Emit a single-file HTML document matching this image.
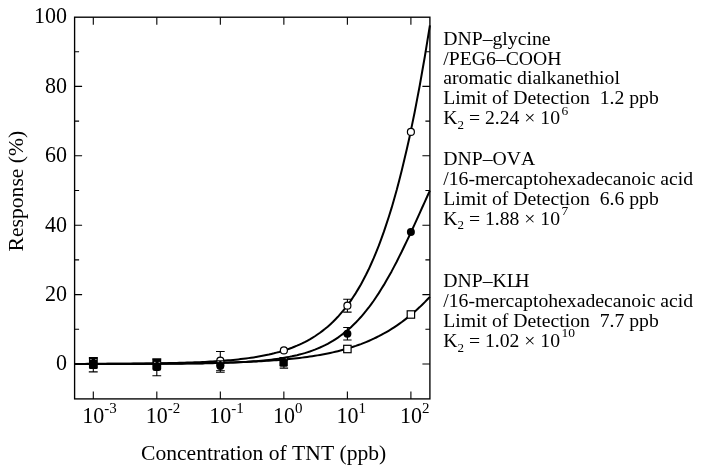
<!DOCTYPE html>
<html><head><meta charset="utf-8"><title>TNT response</title>
<style>html,body{margin:0;padding:0;background:#fff}svg{display:block;filter:grayscale(1)}text{font-family:"Liberation Serif",serif;fill:#000;font-kerning:none;white-space:pre}</style></head><body>
<svg width="702" height="473" viewBox="0 0 702 473">
<rect width="702" height="473" fill="#fff"/>
<g stroke="#000" stroke-width="1.1" fill="none">
<rect x="74.6" y="17.2" width="355.3" height="381.7" stroke-width="1.35"/>
<path d="M93.30,17.2v7.5M93.30,398.9v-7.5M156.82,17.2v7.5M156.82,398.9v-7.5M220.34,17.2v7.5M220.34,398.9v-7.5M283.86,17.2v7.5M283.86,398.9v-7.5M347.38,17.2v7.5M347.38,398.9v-7.5M410.90,17.2v7.5M410.90,398.9v-7.5M74.6,364.00h7.5M429.9,364.00h-7.5M74.6,329.30h4.5M429.9,329.30h-4.5M74.6,294.60h7.5M429.9,294.60h-7.5M74.6,259.90h4.5M429.9,259.90h-4.5M74.6,225.20h7.5M429.9,225.20h-7.5M74.6,190.50h4.5M429.9,190.50h-4.5M74.6,155.80h7.5M429.9,155.80h-7.5M74.6,121.10h4.5M429.9,121.10h-4.5M74.6,86.40h7.5M429.9,86.40h-7.5M74.6,51.70h4.5M429.9,51.70h-4.5"/>
</g>
<g stroke="#000" stroke-width="2" fill="none" stroke-linejoin="round">
<path d="M74.6,363.93 L77.2,363.93 L79.7,363.93 L82.3,363.92 L84.8,363.92 L87.4,363.91 L89.9,363.91 L92.5,363.90 L95.0,363.90 L97.6,363.89 L100.2,363.89 L102.7,363.88 L105.3,363.88 L107.8,363.87 L110.4,363.86 L112.9,363.86 L115.5,363.85 L118.1,363.84 L120.6,363.83 L123.2,363.82 L125.7,363.81 L128.3,363.80 L130.8,363.79 L133.4,363.78 L135.9,363.77 L138.5,363.76 L141.1,363.75 L143.6,363.73 L146.2,363.72 L148.7,363.70 L151.3,363.69 L153.8,363.67 L156.4,363.65 L159.0,363.64 L161.5,363.62 L164.1,363.60 L166.6,363.57 L169.2,363.55 L171.7,363.53 L174.3,363.50 L176.8,363.48 L179.4,363.45 L182.0,363.42 L184.5,363.39 L187.1,363.36 L189.6,363.33 L192.2,363.29 L194.7,363.25 L197.3,363.21 L199.8,363.17 L202.4,363.13 L205.0,363.08 L207.5,363.03 L210.1,362.98 L212.6,362.93 L215.2,362.87 L217.7,362.81 L220.3,362.75 L222.9,362.68 L225.4,362.62 L228.0,362.54 L230.5,362.47 L233.1,362.39 L235.6,362.30 L238.2,362.21 L240.7,362.12 L243.3,362.02 L245.9,361.92 L248.4,361.81 L251.0,361.69 L253.5,361.57 L256.1,361.44 L258.6,361.31 L261.2,361.17 L263.8,361.02 L266.3,360.86 L268.9,360.70 L271.4,360.53 L274.0,360.35 L276.5,360.16 L279.1,359.96 L281.6,359.74 L284.2,359.52 L286.8,359.29 L289.3,359.05 L291.9,358.79 L294.4,358.52 L297.0,358.23 L299.5,357.93 L302.1,357.62 L304.7,357.29 L307.2,356.94 L309.8,356.58 L312.3,356.20 L314.9,355.80 L317.4,355.38 L320.0,354.93 L322.5,354.47 L325.1,353.98 L327.7,353.47 L330.2,352.93 L332.8,352.37 L335.3,351.78 L337.9,351.16 L340.4,350.51 L343.0,349.83 L345.5,349.12 L348.1,348.37 L350.7,347.59 L353.2,346.77 L355.8,345.91 L358.3,345.02 L360.9,344.08 L363.4,343.10 L366.0,342.07 L368.6,341.00 L371.1,339.87 L373.7,338.70 L376.2,337.48 L378.8,336.20 L381.3,334.87 L383.9,333.48 L386.4,332.03 L389.0,330.52 L391.6,328.95 L394.1,327.32 L396.7,325.62 L399.2,323.85 L401.8,322.01 L404.3,320.10 L406.9,318.12 L409.5,316.07 L412.0,313.94 L414.6,311.74 L417.1,309.45 L419.7,307.10 L422.2,304.66 L424.8,302.14 L427.3,299.54 L429.9,296.87"/>
<path d="M74.6,363.98 L77.2,363.98 L79.7,363.98 L82.3,363.98 L84.8,363.98 L87.4,363.98 L89.9,363.97 L92.5,363.97 L95.0,363.97 L97.6,363.97 L100.2,363.97 L102.7,363.96 L105.3,363.96 L107.8,363.96 L110.4,363.95 L112.9,363.95 L115.5,363.95 L118.1,363.94 L120.6,363.94 L123.2,363.93 L125.7,363.93 L128.3,363.92 L130.8,363.92 L133.4,363.91 L135.9,363.90 L138.5,363.90 L141.1,363.89 L143.6,363.88 L146.2,363.87 L148.7,363.86 L151.3,363.85 L153.8,363.84 L156.4,363.83 L159.0,363.82 L161.5,363.80 L164.1,363.79 L166.6,363.77 L169.2,363.76 L171.7,363.74 L174.3,363.72 L176.8,363.70 L179.4,363.67 L182.0,363.65 L184.5,363.62 L187.1,363.60 L189.6,363.56 L192.2,363.53 L194.7,363.50 L197.3,363.46 L199.8,363.42 L202.4,363.38 L205.0,363.33 L207.5,363.28 L210.1,363.23 L212.6,363.17 L215.2,363.10 L217.7,363.04 L220.3,362.97 L222.9,362.89 L225.4,362.81 L228.0,362.72 L230.5,362.62 L233.1,362.52 L235.6,362.41 L238.2,362.29 L240.7,362.16 L243.3,362.02 L245.9,361.88 L248.4,361.72 L251.0,361.55 L253.5,361.37 L256.1,361.17 L258.6,360.96 L261.2,360.74 L263.8,360.50 L266.3,360.24 L268.9,359.96 L271.4,359.66 L274.0,359.34 L276.5,358.99 L279.1,358.63 L281.6,358.23 L284.2,357.81 L286.8,357.35 L289.3,356.86 L291.9,356.34 L294.4,355.78 L297.0,355.19 L299.5,354.55 L302.1,353.86 L304.7,353.13 L307.2,352.34 L309.8,351.50 L312.3,350.61 L314.9,349.65 L317.4,348.62 L320.0,347.53 L322.5,346.37 L325.1,345.13 L327.7,343.80 L330.2,342.39 L332.8,340.89 L335.3,339.30 L337.9,337.60 L340.4,335.80 L343.0,333.89 L345.5,331.87 L348.1,329.73 L350.7,327.46 L353.2,325.06 L355.8,322.53 L358.3,319.86 L360.9,317.04 L363.4,314.09 L366.0,310.98 L368.6,307.72 L371.1,304.31 L373.7,300.74 L376.2,297.01 L378.8,293.13 L381.3,289.09 L383.9,284.89 L386.4,280.54 L389.0,276.05 L391.6,271.41 L394.1,266.63 L396.7,261.72 L399.2,256.68 L401.8,251.53 L404.3,246.27 L406.9,240.92 L409.5,235.48 L412.0,229.97 L414.6,224.41 L417.1,218.80 L419.7,213.17 L422.2,207.52 L424.8,201.87 L427.3,196.23 L429.9,190.63"/>
<path d="M74.6,363.90 L77.2,363.90 L79.7,363.89 L82.3,363.88 L84.8,363.88 L87.4,363.87 L89.9,363.86 L92.5,363.85 L95.0,363.84 L97.6,363.83 L100.2,363.82 L102.7,363.81 L105.3,363.80 L107.8,363.79 L110.4,363.77 L112.9,363.76 L115.5,363.74 L118.1,363.73 L120.6,363.71 L123.2,363.69 L125.7,363.67 L128.3,363.65 L130.8,363.63 L133.4,363.61 L135.9,363.59 L138.5,363.56 L141.1,363.53 L143.6,363.50 L146.2,363.47 L148.7,363.44 L151.3,363.41 L153.8,363.37 L156.4,363.33 L159.0,363.29 L161.5,363.24 L164.1,363.20 L166.6,363.15 L169.2,363.09 L171.7,363.04 L174.3,362.98 L176.8,362.91 L179.4,362.85 L182.0,362.77 L184.5,362.70 L187.1,362.62 L189.6,362.53 L192.2,362.44 L194.7,362.34 L197.3,362.24 L199.8,362.13 L202.4,362.01 L205.0,361.89 L207.5,361.76 L210.1,361.62 L212.6,361.47 L215.2,361.32 L217.7,361.15 L220.3,360.97 L222.9,360.79 L225.4,360.59 L228.0,360.37 L230.5,360.15 L233.1,359.91 L235.6,359.66 L238.2,359.39 L240.7,359.10 L243.3,358.80 L245.9,358.48 L248.4,358.13 L251.0,357.77 L253.5,357.39 L256.1,356.98 L258.6,356.54 L261.2,356.08 L263.8,355.59 L266.3,355.07 L268.9,354.52 L271.4,353.93 L274.0,353.31 L276.5,352.65 L279.1,351.95 L281.6,351.21 L284.2,350.42 L286.8,349.58 L289.3,348.69 L291.9,347.75 L294.4,346.75 L297.0,345.69 L299.5,344.57 L302.1,343.38 L304.7,342.11 L307.2,340.77 L309.8,339.35 L312.3,337.84 L314.9,336.24 L317.4,334.54 L320.0,332.75 L322.5,330.84 L325.1,328.83 L327.7,326.69 L330.2,324.43 L332.8,322.03 L335.3,319.49 L337.9,316.80 L340.4,313.96 L343.0,310.95 L345.5,307.76 L348.1,304.39 L350.7,300.83 L353.2,297.06 L355.8,293.08 L358.3,288.87 L360.9,284.43 L363.4,279.73 L366.0,274.78 L368.6,269.55 L371.1,264.03 L373.7,258.21 L376.2,252.08 L378.8,245.63 L381.3,238.83 L383.9,231.67 L386.4,224.14 L389.0,216.22 L391.6,207.91 L394.1,199.17 L396.7,190.01 L399.2,180.39 L401.8,170.32 L404.3,159.77 L406.9,148.73 L409.5,137.18 L412.0,125.13 L414.6,112.54 L417.1,99.41 L419.7,85.74 L422.2,71.50 L424.8,56.71 L427.3,41.34 L429.9,25.40"/>
</g>
<path d="M93.3,358.0V371.9M88.8,358.0h8.9M88.8,371.9h8.9" stroke="#000" stroke-width="1.1" fill="none"/>
<path d="M88.95,357.00H97.80V367.80Q97.80,369.00 96.60,369.00H90.15Q88.95,369.00 88.95,367.80Z" fill="#000"/>
<rect x="90.1" y="359.0" width="1.6" height="1.0" fill="#808080"/>
<rect x="95.1" y="359.0" width="1.6" height="1.0" fill="#808080"/>
<path d="M156.8,359.0V375.7M152.4,359.0h8.8M152.4,375.7h8.8" stroke="#000" stroke-width="1.1" fill="none"/>
<path d="M152.35,358.60H161.20V368.50Q161.20,371.00 158.70,371.00H154.85Q152.35,371.00 152.35,368.50Z" fill="#000"/>
<rect x="154.0" y="361.9" width="1.6" height="1.0" fill="#9a9a9a"/>
<rect x="158.6" y="361.9" width="1.6" height="1.0" fill="#9a9a9a"/>
<path d="M220.3,351.5V372.3M216.0,351.5h8.7M216.0,372.3h8.7" stroke="#000" stroke-width="1.1" fill="none"/>
<circle cx="220.3" cy="360.7" r="3.5" fill="#fff" stroke="#000" stroke-width="1.2"/>
<path d="M216.40,360.30H224.30V366.00Q224.30,366.50 223.80,366.50H216.90Q216.40,366.50 216.40,366.00Z" fill="#000"/>
<circle cx="220.3" cy="366.0" r="4.0" fill="#000" stroke="#000" stroke-width="0"/>
<rect x="217.4" y="361.2" width="1.8" height="0.9" fill="#aaa"/>
<rect x="221.5" y="361.2" width="1.8" height="0.9" fill="#aaa"/>
<path d="M216.1,370.7h8.7" stroke="#000" stroke-width="1.0"/>
<path d="M283.9,360.0V368.1M279.7,360.0h8.4M279.7,368.1h8.4" stroke="#000" stroke-width="1.1" fill="none"/>
<path d="M279.40,356.90H287.80V365.20Q287.80,366.70 286.30,366.70H280.90Q279.40,366.70 279.40,365.20Z" fill="#000"/>
<rect x="285.8" y="358.2" width="0.9" height="0.9" fill="#bbb"/>
<circle cx="283.9" cy="350.4" r="3.5" fill="#fff" stroke="#000" stroke-width="1.2"/>
<path d="M347.4,299.2V312.1M343.2,299.2h8.4M343.2,312.1h8.4" stroke="#000" stroke-width="1.1" fill="none"/>
<circle cx="347.4" cy="305.7" r="3.5" fill="#fff" stroke="#000" stroke-width="1.2"/>
<path d="M347.4,327.5V340.0M343.2,327.5h8.4M343.2,340.0h8.4" stroke="#000" stroke-width="1.1" fill="none"/>
<circle cx="347.4" cy="333.7" r="4.0" fill="#000" stroke="#000" stroke-width="0"/>
<rect x="343.7" y="345.3" width="7.4" height="7.4" fill="#fff" stroke="#000" stroke-width="1.2"/>
<circle cx="410.9" cy="131.9" r="3.5" fill="#fff" stroke="#000" stroke-width="1.2"/>
<circle cx="410.9" cy="232.0" r="4.0" fill="#000" stroke="#000" stroke-width="0"/>
<rect x="407.2" y="310.8" width="7.4" height="7.4" fill="#fff" stroke="#000" stroke-width="1.2"/>
<text transform="translate(67.0,370.3) scale(1,1.04)" font-size="22" text-anchor="end">0</text>
<text transform="translate(67.0,300.9) scale(1,1.04)" font-size="22" text-anchor="end">20</text>
<text transform="translate(67.0,231.5) scale(1,1.04)" font-size="22" text-anchor="end">40</text>
<text transform="translate(67.0,162.1) scale(1,1.04)" font-size="22" text-anchor="end">60</text>
<text transform="translate(67.0,92.7) scale(1,1.04)" font-size="22" text-anchor="end">80</text>
<text transform="translate(67.0,23.3) scale(1,1.04)" font-size="22" text-anchor="end">100</text>
<text transform="translate(82.3,423.3) scale(1,1.04)" font-size="22">10<tspan font-size="15" dy="-10">-3</tspan></text>
<text transform="translate(145.8,423.3) scale(1,1.04)" font-size="22">10<tspan font-size="15" dy="-10">-2</tspan></text>
<text transform="translate(209.3,423.3) scale(1,1.04)" font-size="22">10<tspan font-size="15" dy="-10">-1</tspan></text>
<text transform="translate(272.9,423.3) scale(1,1.04)" font-size="22">10<tspan font-size="15" dy="-10">0</tspan></text>
<text transform="translate(336.4,423.3) scale(1,1.04)" font-size="22">10<tspan font-size="15" dy="-10">1</tspan></text>
<text transform="translate(399.9,423.3) scale(1,1.04)" font-size="22">10<tspan font-size="15" dy="-10">2</tspan></text>
<text x="141" y="460.2" font-size="21.6">Concentration of TNT (ppb)</text>
<text transform="translate(23.3,251.4) rotate(-90)" font-size="21.6">Response (%)</text>
<text x="443.3" y="44.7" font-size="19.7">DNP–glycine</text>
<text x="443.3" y="64.6" font-size="19.7">/PEG6–COOH</text>
<text x="443.3" y="84.4" font-size="19.7">aromatic dialkanethiol</text>
<text x="443.3" y="104.2" font-size="19.7">Limit of Detection  1.2 ppb</text>
<text x="443.3" y="124.1" font-size="19.7">K<tspan font-size="13" dy="4.8">2</tspan><tspan dy="-4.8"> = 2.24 × 10</tspan><tspan font-size="13.5" dy="-9.6" dx="1.4">6</tspan></text>
<text x="443.3" y="164.6" font-size="19.7">DNP–OVA</text>
<text x="443.3" y="184.6" font-size="19.7">/16-mercaptohexadecanoic acid</text>
<text x="443.3" y="204.6" font-size="19.7">Limit of Detection  6.6 ppb</text>
<text x="443.3" y="224.6" font-size="19.7">K<tspan font-size="13" dy="4.8">2</tspan><tspan dy="-4.8"> = 1.88 × 10</tspan><tspan font-size="13.5" dy="-9.6" dx="1.4">7</tspan></text>
<text x="443.3" y="287.0" font-size="19.7">DNP–KL<tspan dx="-3.6">H</tspan></text>
<text x="443.3" y="307.0" font-size="19.7">/16-mercaptohexadecanoic acid</text>
<text x="443.3" y="327.0" font-size="19.7">Limit of Detection  7.7 ppb</text>
<text x="443.3" y="347.0" font-size="19.7">K<tspan font-size="13" dy="4.8">2</tspan><tspan dy="-4.8"> = 1.02 × 10</tspan><tspan font-size="13.5" dy="-9.6" dx="1.4">10</tspan></text>
</svg></body></html>
